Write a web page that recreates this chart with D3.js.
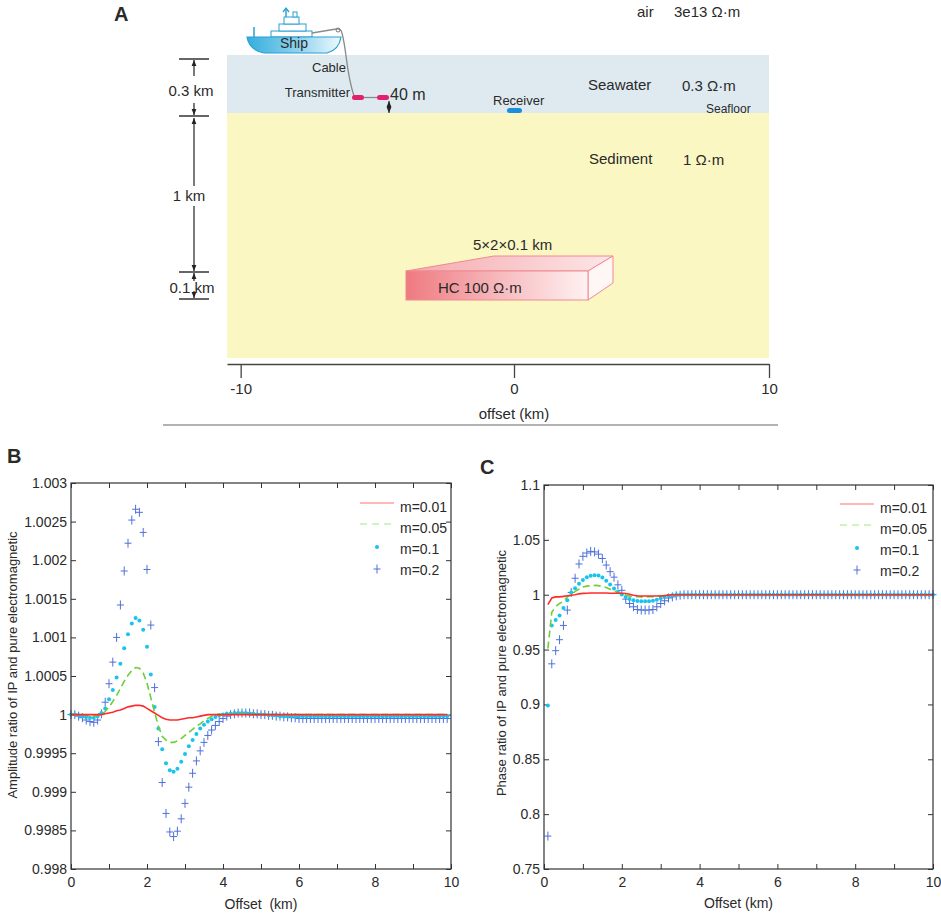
<!DOCTYPE html>
<html>
<head>
<meta charset="utf-8">
<script src="https://cdn.jsdelivr.net/npm/d3@7"></script>
<style>
body { margin: 0; background: #fff; }
svg text { font-family: "Liberation Sans", Arial, sans-serif; fill: #2a2a2a; }
svg text.nar { font-family: "Liberation Sans Narrow", "Arial Narrow", "Liberation Sans", sans-serif; }
</style>
</head>
<body>
<script>
var width	= 941,
	height	= 915;

// panel B / C sample offsets (km)
var offsetsB = [
	0, 0.1, 0.2, 0.3, 0.4, 0.5, 0.6, 0.7, 0.8, 0.9,
	1, 1.1, 1.2, 1.3, 1.4, 1.5, 1.6, 1.7, 1.8, 1.9,
	2, 2.1, 2.2, 2.3, 2.4, 2.5, 2.6, 2.7, 2.8, 2.9,
	3, 3.1, 3.2, 3.3, 3.4, 3.5, 3.6, 3.7, 3.8, 3.9,
	4, 4.1, 4.2, 4.3, 4.4, 4.5, 4.6, 4.7, 4.8, 4.9,
	5, 5.1, 5.2, 5.3, 5.4, 5.5, 5.6, 5.7, 5.8, 5.9,
	6, 6.1, 6.2, 6.3, 6.4, 6.5, 6.6, 6.7, 6.8, 6.9,
	7, 7.1, 7.2, 7.3, 7.4, 7.5, 7.6, 7.7, 7.8, 7.9,
	8, 8.1, 8.2, 8.3, 8.4, 8.5, 8.6, 8.7, 8.8, 8.9,
	9, 9.1, 9.2, 9.3, 9.4, 9.5, 9.6, 9.7, 9.8, 9.9
];
var offsetsC = [
	0.1, 0.2, 0.3, 0.4, 0.5, 0.6, 0.7, 0.8, 0.9, 1,
	1.1, 1.2, 1.3, 1.4, 1.5, 1.6, 1.7, 1.8, 1.9, 2,
	2.1, 2.2, 2.3, 2.4, 2.5, 2.6, 2.7, 2.8, 2.9, 3,
	3.1, 3.2, 3.3, 3.4, 3.5, 3.6, 3.7, 3.8, 3.9, 4,
	4.1, 4.2, 4.3, 4.4, 4.5, 4.6, 4.7, 4.8, 4.9, 5,
	5.1, 5.2, 5.3, 5.4, 5.5, 5.6, 5.7, 5.8, 5.9, 6,
	6.1, 6.2, 6.3, 6.4, 6.5, 6.6, 6.7, 6.8, 6.9, 7,
	7.1, 7.2, 7.3, 7.4, 7.5, 7.6, 7.7, 7.8, 7.9, 8,
	8.1, 8.2, 8.3, 8.4, 8.5, 8.6, 8.7, 8.8, 8.9, 9,
	9.1, 9.2, 9.3, 9.4, 9.5, 9.6, 9.7, 9.8, 9.9, 10
];

// amplitude ratio (panel B)
var ampM001 = [
	1, 1, 1, 1, 1, 1, 1, 1, 1, 1.00001,
	1.00002, 1.00003, 1.00005, 1.00006, 1.00008, 1.0001, 1.00011, 1.00012, 1.00012, 1.00011,
	1.00008, 1.00005, 1.00002, 0.99999, 0.99996, 0.99994, 0.99993, 0.99993, 0.99993, 0.99994,
	0.99995, 0.99996, 0.99996, 0.99997, 0.99998, 0.99999, 1, 1, 1, 1,
	1, 1, 1, 1, 1, 1, 1, 1, 1, 1,
	1, 1, 1, 1, 1, 1, 1, 1, 1, 1,
	1, 1, 1, 1, 1, 1, 1, 1, 1, 1,
	1, 1, 1, 1, 1, 1, 1, 1, 1, 1,
	1, 1, 1, 1, 1, 1, 1, 1, 1, 1,
	1, 1, 1, 1, 1, 1, 1, 1, 1, 1
];
var ampM005 = [
	1, 1, 1, 1, 0.99999, 0.99998, 0.99998, 0.99999, 1, 1.00004,
	1.0001, 1.00017, 1.00025, 1.00034, 1.00043, 1.00051, 1.00057, 1.00061, 1.0006, 1.00054,
	1.00041, 1.00022, 1.00003, 0.99985, 0.99972, 0.99967, 0.99964, 0.99964, 0.99966, 0.99969,
	0.99973, 0.99977, 0.99981, 0.99985, 0.99988, 0.99992, 0.99995, 0.99998, 1, 1,
	1, 1, 1, 1.00001, 1.00001, 1.00001, 1.00001, 1, 1, 1,
	1, 1, 1, 1, 1, 1, 1, 1, 1, 1,
	1, 1, 1, 1, 1, 1, 1, 1, 1, 1,
	1, 1, 1, 1, 1, 1, 1, 1, 1, 1,
	1, 1, 1, 1, 1, 1, 1, 1, 1, 1,
	1, 1, 1, 1, 1, 1, 1, 1, 1, 1
];
var ampM01 = [
	1, 1, 0.99999, 0.99998, 0.99997, 0.99996, 0.99996, 0.99998, 1.00002, 1.00008,
	1.0002, 1.00032, 1.00048, 1.00066, 1.00086, 1.00104, 1.00118, 1.00125, 1.00122, 1.0011,
	1.00088, 1.00052, 1.0001, 0.99982, 0.99955, 0.99937, 0.99928, 0.99926, 0.9993, 0.99939,
	0.99949, 0.99959, 0.99967, 0.99975, 0.99982, 0.99987, 0.99991, 0.99994, 0.99997, 0.99999,
	1, 1.00001, 1.00001, 1.00002, 1.00002, 1.00002, 1.00002, 1.00001, 1.00001, 1,
	1, 1, 0.99999, 0.99999, 0.99999, 0.99998, 0.99998, 0.99998, 0.99998, 0.99998,
	0.99998, 0.99998, 0.99998, 0.99998, 0.99998, 0.99998, 0.99998, 0.99998, 0.99998, 0.99998,
	0.99998, 0.99998, 0.99998, 0.99998, 0.99998, 0.99998, 0.99998, 0.99998, 0.99998, 0.99998,
	0.99998, 0.99998, 0.99998, 0.99998, 0.99998, 0.99998, 0.99998, 0.99998, 0.99998, 0.99998,
	0.99998, 0.99998, 0.99998, 0.99998, 0.99998, 0.99998, 0.99998, 0.99998, 0.99998, 0.99998
];
var ampM02 = [
	1, 1, 0.99998, 0.99996, 0.99993, 0.99991, 0.9999, 0.99993, 1.00001, 1.00016,
	1.0004, 1.00068, 1.001, 1.00142, 1.00186, 1.00222, 1.00252, 1.00266, 1.00262, 1.00236,
	1.00188, 1.00116, 1.00035, 0.99965, 0.99912, 0.99872, 0.99848, 0.99842, 0.99849, 0.99865,
	0.99885, 0.99906, 0.99924, 0.9994, 0.99953, 0.99964, 0.99973, 0.9998, 0.99986, 0.99991,
	0.99995, 0.99998, 1, 1.00001, 1.00002, 1.00002, 1.00002, 1.00002, 1.00001, 1.00001,
	1, 1, 0.99999, 0.99999, 0.99998, 0.99998, 0.99997, 0.99997, 0.99996, 0.99996,
	0.99995, 0.99995, 0.99995, 0.99995, 0.99995, 0.99995, 0.99995, 0.99995, 0.99995, 0.99995,
	0.99995, 0.99995, 0.99995, 0.99995, 0.99995, 0.99995, 0.99995, 0.99995, 0.99995, 0.99995,
	0.99995, 0.99995, 0.99995, 0.99995, 0.99995, 0.99995, 0.99995, 0.99995, 0.99995, 0.99995,
	0.99995, 0.99995, 0.99995, 0.99995, 0.99995, 0.99995, 0.99995, 0.99995, 0.99995, 0.99995
];

// phase ratio (panel C)
var phaseM001 = [
	0.991, 0.997, 0.998, 0.998, 0.9985, 0.999, 0.9995, 1, 1.0008, 1.0012,
	1.0014, 1.0015, 1.0015, 1.0015, 1.0015, 1.0015, 1.0014, 1.0014, 1.0013, 1.0013,
	1.0011, 1.0005, 0.9995, 0.999, 0.9988, 0.9988, 0.9988, 0.9988, 0.9988, 0.9988,
	0.9992, 0.9998, 1, 1, 1, 1, 1, 1, 1, 1,
	1, 1, 1, 1, 1, 1, 1, 1, 1, 1,
	1, 1, 1, 1, 1, 1, 1, 1, 1, 1,
	1, 1, 1, 1, 1, 1, 1, 1, 1, 1,
	1, 1, 1, 1, 1, 1, 1, 1, 1, 1,
	1, 1, 1, 1, 1, 1, 1, 1, 1, 1,
	1, 1, 1, 1, 1, 1, 1, 1, 1, 1
];
var phaseM005 = [
	0.951, 0.984, 0.989, 0.992, 0.994, 0.998, 1, 1.003, 1.005, 1.007,
	1.0078, 1.0083, 1.0085, 1.0083, 1.0075, 1.0065, 1.005, 1.0035, 1.002, 1.0007,
	0.9995, 0.9987, 0.9983, 0.9981, 0.998, 0.998, 0.9981, 0.9983, 0.9986, 0.9989,
	0.9993, 0.9996, 0.9998, 1, 1, 1, 1, 1, 1, 1,
	1, 1, 1, 1, 1, 1, 1, 1, 1, 1,
	1, 1, 1, 1, 1, 1, 1, 1, 1, 1,
	1, 1, 1, 1, 1, 1, 1, 1, 1, 1,
	1, 1, 1, 1, 1, 1, 1, 1, 1, 1,
	1, 1, 1, 1, 1, 1, 1, 1, 1, 1,
	1, 1, 1, 1, 1, 1, 1, 1, 1, 1
];
var phaseM01 = [
	0.899, 0.972, 0.977, 0.981, 0.988, 0.995, 1.002, 1.006, 1.01, 1.0135,
	1.016, 1.0172, 1.0178, 1.0175, 1.0158, 1.0128, 1.0093, 1.0057, 1.0028, 1.0003,
	0.998, 0.9962, 0.995, 0.9943, 0.994, 0.994, 0.9941, 0.9945, 0.9955, 0.9968,
	0.998, 0.999, 0.9996, 1, 1, 1, 1, 1, 1, 1,
	1, 1, 1, 1, 1, 1, 1, 1, 1, 1,
	1, 1, 1, 1, 1, 1, 1, 1, 1, 1,
	1, 1, 1, 1, 1, 1, 1, 1, 1, 1,
	1, 1, 1, 1, 1, 1, 1, 1, 1, 1,
	1, 1, 1, 1, 1, 1, 1, 1, 1, 1,
	1, 1, 1, 1, 1, 1, 1, 1, 1, 1
];
var phaseM02 = [
	0.78, 0.937, 0.949, 0.959, 0.972, 0.986, 1.002, 1.015, 1.028, 1.035,
	1.038, 1.0395, 1.039, 1.037, 1.033, 1.027, 1.021, 1.016, 1.009, 1.004,
	0.996, 0.992, 0.989, 0.9865, 0.986, 0.986, 0.986, 0.9865, 0.989, 0.992,
	0.9945, 0.997, 0.998, 0.999, 0.9995, 1, 1, 1, 1, 1,
	1, 1, 1, 1, 1, 1, 1, 1, 1, 1,
	1, 1, 1, 1, 1, 1, 1, 1, 1, 1,
	1, 1, 1, 1, 1, 1, 1, 1, 1, 1,
	1, 1, 1, 1, 1, 1, 1, 1, 1, 1,
	1, 1, 1, 1, 1, 1, 1, 1, 1, 1,
	1, 1, 1, 1, 1, 1, 1, 1, 1, 1
];

var seriesNames		= ["m=0.01", "m=0.05", "m=0.1", "m=0.2"],
	seriesColors	= ["#ff2b2b", "#6ccf35", "#18c4ef", "#4f70da"],
	ampTicks		= [0.998, 0.9985, 0.999, 0.9995, 1, 1.0005, 1.001, 1.0015, 1.002, 1.0025, 1.003],
	ampTickLabels	= ["0.998", "0.9985", "0.999", "0.9995", "1", "1.0005", "1.001", "1.0015", "1.002", "1.0025", "1.003"],
	phaseTicks		= [0.75, 0.8, 0.85, 0.9, 0.95, 1, 1.05, 1.1],
	phaseTickLabels	= ["0.75", "0.8", "0.85", "0.9", "0.95", "1", "1.05", "1.1"],
	offsetTicks		= [0, 1, 2, 3, 4, 5, 6, 7, 8, 9, 10],
	offsetTickLabels = ["0", "", "2", "", "4", "", "6", "", "8", "", "10"],
	schemeTicks		= [-10, 0, 10],
	schemeTickLabels = ["-10", "0", "10"];

var svg = d3.select("body")
	.append("svg")
	.attr("width", width)
	.attr("height", height);

var defs = svg.append("defs");

defs.append("marker")
	.attr("id", "arr")
	.attr("viewBox", "0 0 10 10")
	.attr("refX", 10)
	.attr("refY", 5)
	.attr("markerUnits", "userSpaceOnUse")
	.attr("markerWidth", 6)
	.attr("markerHeight", 7)
	.attr("orient", "auto")
	.append("path")
	.attr("d", "M0,1L10,5L0,9z")
	.attr("fill", "#222");

function gradient(id, stops) {
	var g = defs.append("linearGradient").attr("id", id)
		.attr("x1", "0%").attr("x2", "100%").attr("y1", "0%").attr("y2", "0%");
	stops.forEach(function(s) {
		g.append("stop").attr("offset", s[0]).attr("stop-color", s[1]);
	});
}
gradient("hull", [["0%", "#35aedd"], ["55%", "#8fd3ee"], ["100%", "#eef9fd"]]);
gradient("hcFront", [["0%", "#ee7a80"], ["60%", "#f8c4c7"], ["100%", "#fff1f2"]]);
gradient("hcTop", [["0%", "#f4a9ad"], ["100%", "#fde6e8"]]);

// ---------- panel A : model sketch ----------
var gA = svg.append("g");

function label(g, x, y, txt, size, anchor) {
	return g.append("text")
		.attr("x", x)
		.attr("y", y)
		.attr("text-anchor", anchor || "start")
		.style("font-size", size + "px")
		.text(txt);
}

gA.append("rect").attr("x", 227).attr("y", 55).attr("width", 542).attr("height", 58).attr("fill", "#dfeaf0");
gA.append("rect").attr("x", 227).attr("y", 113).attr("width", 542).attr("height", 245).attr("fill", "#faf7c3");

label(gA, 114, 21, "A", 20).style("font-weight", "bold").attr("fill", "#000");

// depth dimension marks
[59, 116, 272, 299].forEach(function(y) {
	gA.append("line").attr("x1", 179).attr("x2", 209).attr("y1", y).attr("y2", y)
		.attr("stroke", "#333").attr("stroke-width", 1.5);
});
[[76, 60], [103, 115], [186, 118], [206, 271], [281, 273], [291, 298]].forEach(function(s) {
	gA.append("line").attr("x1", 194).attr("x2", 194).attr("y1", s[0]).attr("y2", s[1])
		.attr("stroke", "#222").attr("stroke-width", 1.2).attr("marker-end", "url(#arr)");
});
label(gA, 191, 96, "0.3 km", 15, "middle");
label(gA, 189, 201, "1 km", 15, "middle");
label(gA, 192, 293, "0.1 km", 15, "middle");

// ship
var ship = gA.append("g");
ship.append("line").attr("x1", 254).attr("x2", 254).attr("y1", 27).attr("y2", 37).attr("stroke", "#2a9fd3").attr("stroke-width", 1.5);
ship.append("rect").attr("x", 271).attr("y", 31).attr("width", 41).attr("height", 6).attr("fill", "#fff").attr("stroke", "#2a9fd3");
ship.append("rect").attr("x", 279).attr("y", 24).attr("width", 27).attr("height", 7).attr("fill", "#fff").attr("stroke", "#2a9fd3");
ship.append("rect").attr("x", 284).attr("y", 17).attr("width", 15).attr("height", 7).attr("fill", "#fff").attr("stroke", "#2a9fd3");
ship.append("line").attr("x1", 286).attr("x2", 286).attr("y1", 17).attr("y2", 9).attr("stroke", "#2a9fd3").attr("stroke-width", 1.5);
ship.append("path").attr("d", "M283,12L286,8L289,12").attr("fill", "none").attr("stroke", "#2a9fd3").attr("stroke-width", 1.3);
ship.append("rect").attr("x", 293).attr("y", 12).attr("width", 4).attr("height", 5).attr("fill", "#fff").attr("stroke", "#2a9fd3");
ship.append("path")
	.attr("d", "M247,37L341,37Q339,50 327,53L264,53Q249,50 247,37Z")
	.attr("fill", "url(#hull)")
	.attr("stroke", "#2a9fd3")
	.attr("stroke-width", 1.2);
label(ship, 294, 48, "Ship", 14, "middle");

// cable and transmitter
gA.append("path")
	.attr("d", "M312,33L336,29Q341,28 342,33C347,52 346,72 354,96")
	.attr("fill", "none").attr("stroke", "#8a8a8a").attr("stroke-width", 1.3);
gA.append("circle").attr("cx", 338).attr("cy", 30).attr("r", 2).attr("fill", "none").attr("stroke", "#777");
gA.append("line").attr("x1", 362).attr("x2", 379).attr("y1", 97.5).attr("y2", 97.5).attr("stroke", "#888").attr("stroke-width", 1.3);
[352, 377].forEach(function(x) {
	gA.append("rect").attr("x", x).attr("y", 95).attr("width", 12).attr("height", 5).attr("rx", 2.5).attr("fill", "#e2206f");
});
label(gA, 312, 72, "Cable", 13);
label(gA, 350, 97, "Transmitter", 13, "end");
label(gA, 390, 100, "40 m", 16);
gA.append("line").attr("x1", 389).attr("x2", 389).attr("y1", 107).attr("y2", 101).attr("stroke", "#222").attr("marker-end", "url(#arr)");
gA.append("line").attr("x1", 389).attr("x2", 389).attr("y1", 106).attr("y2", 113).attr("stroke", "#222").attr("marker-end", "url(#arr)");

// receiver
gA.append("rect").attr("x", 507).attr("y", 108).attr("width", 15).attr("height", 5).attr("rx", 2.5).attr("fill", "#1a8fdc");
label(gA, 493, 105, "Receiver", 13);

// layer annotations
label(gA, 637, 17, "air", 15);
label(gA, 674, 17, "3e13 \u03a9\u00b7m", 15);
label(gA, 588, 90, "Seawater", 15);
label(gA, 682, 91, "0.3 \u03a9\u00b7m", 15);
label(gA, 706, 113, "Seafloor", 12);
label(gA, 589, 164, "Sediment", 15);
label(gA, 683, 165, "1 \u03a9\u00b7m", 15);

// hydrocarbon block
gA.append("path").attr("d", "M406,271L494,256L613,256L588,271Z").attr("fill", "url(#hcTop)").attr("stroke", "#f08a90");
gA.append("path").attr("d", "M588,271L613,256L613,283L588,300Z").attr("fill", "#fff6f6").attr("stroke", "#f08a90");
gA.append("rect").attr("x", 406).attr("y", 271).attr("width", 182).attr("height", 29).attr("fill", "url(#hcFront)").attr("stroke", "#f08a90");
label(gA, 473, 250, "5\u00d72\u00d70.1 km", 15);
label(gA, 438, 293, "HC 100 \u03a9\u00b7m", 15);

// offset axis of the sketch
var xA = d3.scaleLinear().domain([-10.5, 0, 10]).range([227, 514, 769]);
var axA = gA.append("g")
	.attr("transform", "translate(0,364)")
	.call(d3.axisBottom(xA).tickValues(schemeTicks).tickSize(14).tickSizeOuter(0).tickPadding(5)
		.tickFormat(function(d, i) { return schemeTickLabels[i]; }));
axA.select(".domain").attr("stroke", "#444").attr("stroke-width", 1.5);
axA.selectAll(".tick line").attr("stroke", "#444").attr("stroke-width", 1.3);
axA.selectAll(".tick text").style("font-size", "15px").attr("fill", "#2a2a2a");
label(gA, 514, 419, "offset (km)", 15, "middle");
gA.append("line").attr("x1", 163).attr("x2", 778).attr("y1", 425).attr("y2", 425).attr("stroke", "#666");

// ---------- panels B and C ----------
function drawPanel(p) {
	var g = svg.append("g");
	var x = p.x, y = p.y;
	var x0 = x.range()[0], x1 = x.range()[1], y0 = y.range()[1], y1 = y.range()[0];

	g.append("rect")
		.attr("x", x0).attr("y", y0)
		.attr("width", x1 - x0).attr("height", y1 - y0)
		.attr("fill", "#fff");

	function axis(gen, tr, labels) {
		var a = g.append("g").attr("transform", tr).call(gen);
		a.select(".domain").remove();
		a.selectAll(".tick line").attr("stroke", "#333");
		if (labels) {
			a.selectAll(".tick text").attr("class", "nar").style("font-size", "14px").attr("fill", "#1e1e1e");
		} else {
			a.selectAll(".tick text").remove();
		}
	}
	axis(d3.axisBottom(x).tickValues(offsetTicks).tickSize(-5).tickPadding(8)
		.tickFormat(function(d, i) { return offsetTickLabels[i]; }), "translate(0," + y1 + ")", true);
	axis(d3.axisTop(x).tickValues(offsetTicks).tickSize(-5), "translate(0," + y0 + ")", false);
	axis(d3.axisLeft(y).tickValues(p.ticks).tickSize(-5).tickPadding(4)
		.tickFormat(function(d, i) { return p.tickLabels[i]; }), "translate(" + x0 + ",0)", true);
	axis(d3.axisRight(y).tickValues(p.ticks).tickSize(-5), "translate(" + x1 + ",0)", false);

	var pts = function(vals) {
		return p.offsets.map(function(o, i) { return [o, vals[i]]; });
	};

	// m=0.2 pluses
	g.selectAll(".plus")
		.data(pts(p.series[3]))
		.enter().append("path")
		.attr("transform", function(d) { return "translate(" + x(d[0]) + "," + y(d[1]) + ")"; })
		.attr("d", "M-3.5,0H3.5M0,-4.5V4.5")
		.attr("stroke", seriesColors[3])
		.attr("stroke-width", 1);

	// m=0.1 dots
	g.selectAll(".dot")
		.data(pts(p.series[2]))
		.enter().append("circle")
		.attr("cx", function(d) { return x(d[0]); })
		.attr("cy", function(d) { return y(d[1]); })
		.attr("r", 2)
		.attr("fill", seriesColors[2]);

	var line = d3.line()
		.x(function(d) { return x(d[0]); })
		.y(function(d) { return y(d[1]); });

	g.append("path").datum(pts(p.series[1]))
		.attr("d", line).attr("fill", "none")
		.attr("stroke", seriesColors[1]).attr("stroke-width", 1.6)
		.attr("stroke-dasharray", "7,4");
	g.append("path").datum(pts(p.series[0]))
		.attr("d", line).attr("fill", "none")
		.attr("stroke", seriesColors[0]).attr("stroke-width", 1.6);

	g.append("rect")
		.attr("x", x0).attr("y", y0)
		.attr("width", x1 - x0).attr("height", y1 - y0)
		.attr("fill", "none").attr("stroke", "#333").attr("stroke-width", 1.2);

	// legend
	var lg = g.append("g");
	seriesNames.forEach(function(name, i) {
		var ly = p.legY + i * 21,
			lx0 = p.legX, lx1 = p.legX + 34, cx = (lx0 + lx1) / 2;
		if (i == 0) {
			lg.append("line").attr("x1", lx0).attr("x2", lx1).attr("y1", ly - 4).attr("y2", ly - 4)
				.attr("stroke", "#ff7070").attr("stroke-width", 1.2);
		} else if (i == 1) {
			lg.append("line").attr("x1", lx0).attr("x2", lx1).attr("y1", ly - 4).attr("y2", ly - 4)
				.attr("stroke", "#a6e67e").attr("stroke-width", 1.2).attr("stroke-dasharray", "7,5");
		} else if (i == 2) {
			lg.append("circle").attr("cx", cx).attr("cy", ly - 2).attr("r", 2).attr("fill", seriesColors[2]);
		} else {
			lg.append("path").attr("transform", "translate(" + cx + "," + (ly - 1) + ")")
				.attr("d", "M-3.5,0H3.5M0,-4.5V4.5").attr("stroke", seriesColors[3]);
		}
		lg.append("text").attr("class", "nar")
			.attr("x", lx1 + 6).attr("y", ly + 5)
			.style("font-size", "14px")
			.text(name);
	});

	// titles
	g.append("text").attr("class", "nar")
		.attr("x", (x0 + x1) / 2).attr("y", p.xTitleY)
		.attr("text-anchor", "middle").style("font-size", "14px")
		.style("white-space", "pre")
		.text(p.xTitle);
	g.append("text")
		.attr("transform", "translate(" + p.yTitleX + "," + p.yTitleY + ") rotate(-90)")
		.attr("text-anchor", "middle").style("font-size", "13px")
		.text(p.yTitle);
	label(g, p.tagX, p.tagY, p.tag, 20).style("font-weight", "bold").attr("fill", "#000");
}

drawPanel({
	x: d3.scaleLinear().domain([0, 10]).range([71, 451]),
	y: d3.scaleLinear().domain([0.998, 1.003]).range([869, 483]),
	offsets: offsetsB,
	series: [ampM001, ampM005, ampM01, ampM02],
	ticks: ampTicks,
	tickLabels: ampTickLabels,
	legX: 360, legY: 507,
	xTitle: "Offset  (km)", xTitleY: 909,
	yTitle: "Amplitude ratio of IP and pure electromagnetic", yTitleX: 17, yTitleY: 665,
	tag: "B", tagX: 7, tagY: 463
});

drawPanel({
	x: d3.scaleLinear().domain([0, 10]).range([544, 933]),
	y: d3.scaleLinear().domain([0.75, 1.1]).range([869, 485]),
	offsets: offsetsC,
	series: [phaseM001, phaseM005, phaseM01, phaseM02],
	ticks: phaseTicks,
	tickLabels: phaseTickLabels,
	legX: 840, legY: 508,
	xTitle: "Offset (km)", xTitleY: 908,
	yTitle: "Phase ratio of IP and pure electromagnetic", yTitleX: 506, yTitleY: 673,
	tag: "C", tagX: 480, tagY: 474
});
</script>
</body>
</html>
